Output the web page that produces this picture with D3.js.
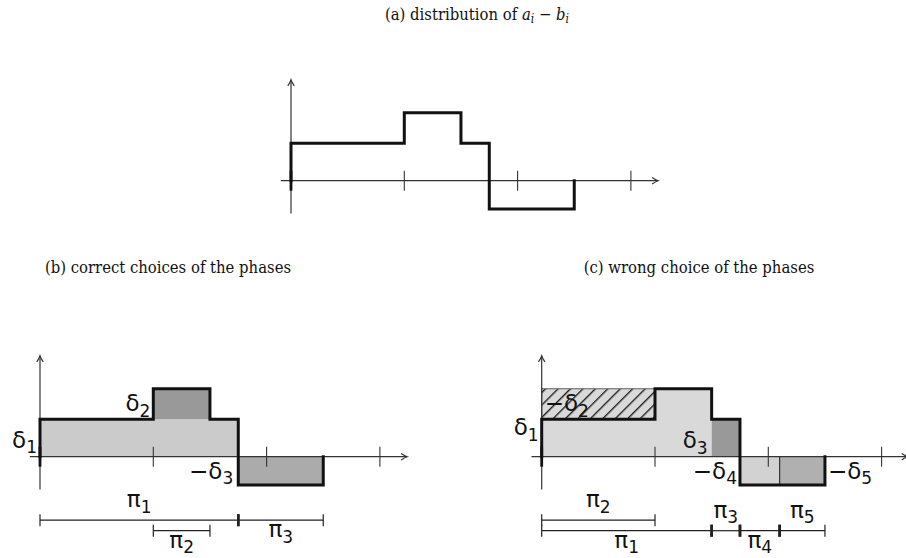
<!DOCTYPE html>
<html>
<head>
<meta charset="utf-8">
<script src="https://cdn.jsdelivr.net/npm/d3@7"></script>
<style>
  body { margin: 0; background: #fff; }
  svg { display: block; }
</style>
</head>
<body>
<svg id="fig" width="906" height="558"></svg>
<script>
// Step profile of a_i − b_i: breakpoints on the x axis and the level on each piece
const stepBreaks = [0, 1, 1.5, 1.75, 2.5];
const stepLevels = [0.33, 0.6, 0.33, -0.25];
const xTicks = [0, 1, 2, 3];

const titleA = ["(a) distribution of ", "a", "i", " − ", "b", "i"];
const titleB = "(b) correct choices of the phases";
const titleC = "(c) wrong choice of the phases";

// Panel (b): shaded phases as [from, to, bottom, top]
const phasesB = [[0, 1.75, 0, 0.33], [1, 1.5, 0.33, 0.6], [1.75, 2.5, -0.25, 0]];
// Panel (c): shaded phases, and the hatched block that is subtracted
const phasesC = [[0, 1.5, 0, 0.6], [1.5, 1.75, 0, 0.33], [1.75, 2.1, -0.25, 0], [2.1, 2.5, -0.25, 0]];
const hatchC = [0, 1, 0.33, 0.6];
const splitC = [2.1];

// Delta labels: text, subscript, anchor point (x, level)
const deltasB = [
  { t: "δ", s: "1", x: 0, y: 0 },
  { t: "δ", s: "2", x: 1, y: 0.33 },
  { t: "−δ", s: "3", x: 1.75, y: 0 }
];
const deltasC = [
  { t: "δ", s: "1", x: 0, y: 0.33 },
  { t: "−δ", s: "2", x: 0, y: 0.33 },
  { t: "δ", s: "3", x: 1.5, y: 0 },
  { t: "−δ", s: "4", x: 1.75, y: 0 },
  { t: "−δ", s: "5", x: 2.5, y: 0 }
];

// Phase intervals: index, from, to
const intervalsB = [
  { s: "1", from: 0, to: 1.75 },
  { s: "2", from: 1, to: 1.5 },
  { s: "3", from: 1.75, to: 2.5 }
];
const intervalsC = [
  { s: "2", from: 0, to: 1 },
  { s: "1", from: 0, to: 1.5 },
  { s: "3", from: 1.5, to: 1.75 },
  { s: "4", from: 1.75, to: 2.1 },
  { s: "5", from: 2.1, to: 2.5 }
];

// ---------------------------------------------------------------
const svg = d3.select("#fig");
const UNIT = 113.3;
const MATH_FONT = "'DejaVu Sans', sans-serif";
const TEXT_FONT = "'DejaVu Serif Condensed', 'DejaVu Serif', serif";

const defs = svg.append("defs");
defs.append("pattern")
  .attr("id", "hatch")
  .attr("patternUnits", "userSpaceOnUse")
  .attr("width", 8.8).attr("height", 8.8)
  .attr("patternTransform", "rotate(45)")
  .append("line")
  .attr("x1", 0.7).attr("y1", 0).attr("x2", 0.7).attr("y2", 8.8)
  .attr("stroke", "#111").attr("stroke-width", 1.3);

function makePanel(ox, oy) {
  const g = svg.append("g");
  const x = d3.scaleLinear().domain([0, 1]).range([ox, ox + UNIT]);
  const y = d3.scaleLinear().domain([0, 1]).range([oy, oy - UNIT]);
  return { g, x, y };
}

function drawRects(p, rects, fills) {
  p.g.selectAll(null).data(rects).join("rect")
    .attr("x", d => p.x(d[0]))
    .attr("y", d => p.y(d[3]))
    .attr("width", d => p.x(d[1]) - p.x(d[0]))
    .attr("height", d => p.y(d[2]) - p.y(d[3]))
    .attr("fill", (d, i) => fills[i]);
}

function arrowHead(g, x, y, dir) {
  // dir: "right" or "up"
  const L = 6, W = 3.2;
  const d = dir === "right"
    ? `M${x - L},${y - W} Q${x - 2},${y - 0.6} ${x},${y} Q${x - 2},${y + 0.6} ${x - L},${y + W}`
    : `M${x - W},${y + L} Q${x - 0.6},${y + 2} ${x},${y} Q${x + 0.6},${y + 2} ${x + W},${y + L}`;
  g.append("path").attr("d", d).attr("fill", "none")
    .attr("stroke", "#333").attr("stroke-width", 1.2);
}

function drawAxes(p, xMax) {
  const g = p.g;
  const c = "#333";
  // x axis
  g.append("line")
    .attr("x1", p.x(-0.09)).attr("x2", p.x(xMax))
    .attr("y1", p.y(0)).attr("y2", p.y(0))
    .attr("stroke", c).attr("stroke-width", 1.2);
  arrowHead(g, p.x(xMax), p.y(0), "right");
  // y axis
  g.append("line")
    .attr("x1", p.x(0)).attr("x2", p.x(0))
    .attr("y1", p.y(-0.29)).attr("y2", p.y(0.89))
    .attr("stroke", c).attr("stroke-width", 1.2);
  arrowHead(g, p.x(0), p.y(0.89), "up");
  // ticks
  g.selectAll(null).data(xTicks).join("line")
    .attr("x1", d => p.x(d)).attr("x2", d => p.x(d))
    .attr("y1", p.y(0) - 10).attr("y2", p.y(0) + 10)
    .attr("stroke", d => d === 0 ? "#111" : c)
    .attr("stroke-width", d => d === 0 ? 2.8 : 1.1);
}

function drawProfile(p) {
  const pts = [[stepBreaks[0], 0]];
  stepLevels.forEach((v, i) => {
    pts.push([stepBreaks[i], v], [stepBreaks[i + 1], v]);
  });
  pts.push([stepBreaks[stepBreaks.length - 1], 0]);
  const line = d3.line().x(d => p.x(d[0])).y(d => p.y(d[1]));
  p.g.append("path").attr("d", line(pts))
    .attr("fill", "none").attr("stroke", "#111")
    .attr("stroke-width", 3).attr("stroke-linejoin", "miter")
    .attr("stroke-linecap", "square");
}

function mathLabel(g, x, y, main, sub, anchor) {
  const t = g.append("text")
    .attr("x", x).attr("y", y)
    .attr("text-anchor", anchor)
    .attr("font-family", MATH_FONT)
    .attr("font-size", 23)
    .attr("fill", "#111");
  t.append("tspan").text(main);
  t.append("tspan").attr("font-size", 17).attr("dy", 5.5).text(sub);
  return t;
}

function drawDeltas(p, list, place) {
  list.forEach((d, i) => {
    const o = place[i];
    mathLabel(p.g, p.x(d.x) + o[0], p.y(d.y) + o[1], d.t, d.s, o[2]);
  });
}

function drawIntervals(p, list, layout) {
  const g = p.g;
  const oy = p.y(0);
  // endpoints shared by two intervals on one row get a bold tick
  const ends = {};
  list.forEach((d, i) => {
    const row = layout[i][0];
    [d.from, d.to].forEach(v => {
      const k = row + ":" + v;
      ends[k] = (ends[k] || 0) + 1;
    });
  });
  list.forEach((d, i) => {
    const [row, side] = layout[i];
    const ry = oy + (row === 0 ? 63.5 : 74);
    g.append("line")
      .attr("x1", p.x(d.from)).attr("x2", p.x(d.to))
      .attr("y1", ry).attr("y2", ry)
      .attr("stroke", "#222").attr("stroke-width", 1.2);
    [d.from, d.to].forEach(v => {
      const bold = ends[row + ":" + v] > 1;
      g.append("line")
        .attr("x1", p.x(v)).attr("x2", p.x(v))
        .attr("y1", ry - 6).attr("y2", ry + 6)
        .attr("stroke", "#222").attr("stroke-width", bold ? 2.6 : 1.2);
    });
    const cx = (p.x(d.from) + p.x(d.to)) / 2;
    const ty = side === "above" ? ry - 13 : ry + 17;
    mathLabel(g, cx, ty, "π", d.s, "middle");
  });
}

// ---------------- panel (a) ----------------
const pa = makePanel(291, 180.7);
drawAxes(pa, 3.24);
drawProfile(pa);

const ta = svg.append("text")
  .attr("x", 477).attr("y", 20)
  .attr("text-anchor", "middle")
  .attr("font-family", TEXT_FONT).attr("font-size", 16.5).attr("fill", "#111");
ta.append("tspan").text(titleA[0]);
ta.append("tspan").attr("font-style", "italic").text(titleA[1]);
ta.append("tspan").attr("font-style", "italic").attr("font-size", 12).attr("dy", 3).text(titleA[2]);
ta.append("tspan").attr("dy", -3).text(titleA[3]);
ta.append("tspan").attr("font-style", "italic").text(titleA[4]);
ta.append("tspan").attr("font-style", "italic").attr("font-size", 12).attr("dy", 3).text(titleA[5]);

// ---------------- panel (b) ----------------
const pb = makePanel(40, 456.7);
drawRects(pb, phasesB, ["#cbcbcb", "#999999", "#ababab"]);
drawAxes(pb, 3.24);
drawProfile(pb);
drawDeltas(pb, deltasB, [[-3, -9, "end"], [-3, -8, "end"], [-5, 22, "end"]]);
drawIntervals(pb, intervalsB, [[0, "above"], [1, "below"], [0, "below"]]);

svg.append("text")
  .attr("x", 168).attr("y", 273)
  .attr("text-anchor", "middle")
  .attr("font-family", TEXT_FONT).attr("font-size", 16.5).attr("fill", "#111")
  .text(titleB);

// ---------------- panel (c) ----------------
const pc = makePanel(541.7, 456.7);
drawRects(pc, phasesC, ["#d9d9d9", "#999999", "#d2d2d2", "#b0b0b0"]);
// hatched block
pc.g.append("rect")
  .attr("x", pc.x(hatchC[0])).attr("y", pc.y(hatchC[3]))
  .attr("width", pc.x(hatchC[1]) - pc.x(hatchC[0]))
  .attr("height", pc.y(hatchC[2]) - pc.y(hatchC[3]))
  .attr("fill", "url(#hatch)")
  .attr("stroke", "#777").attr("stroke-width", 1.2);
pc.g.selectAll(null).data(splitC).join("line")
  .attr("x1", d => pc.x(d)).attr("x2", d => pc.x(d))
  .attr("y1", pc.y(0)).attr("y2", pc.y(stepLevels[3]))
  .attr("stroke", "#333").attr("stroke-width", 1.2);
drawAxes(pc, 3.23);
drawProfile(pc);
drawDeltas(pc, deltasC, [[-3, 16, "end"], [3, -8, "start"], [-4, -8.5, "end"], [-3, 22, "end"], [3, 22, "start"]]);
drawIntervals(pc, intervalsC, [[0, "above"], [1, "below"], [1, "above"], [1, "below"], [1, "above"]]);

svg.append("text")
  .attr("x", 699).attr("y", 273)
  .attr("text-anchor", "middle")
  .attr("font-family", TEXT_FONT).attr("font-size", 16.5).attr("fill", "#111")
  .text(titleC);
</script>
</body>
</html>
